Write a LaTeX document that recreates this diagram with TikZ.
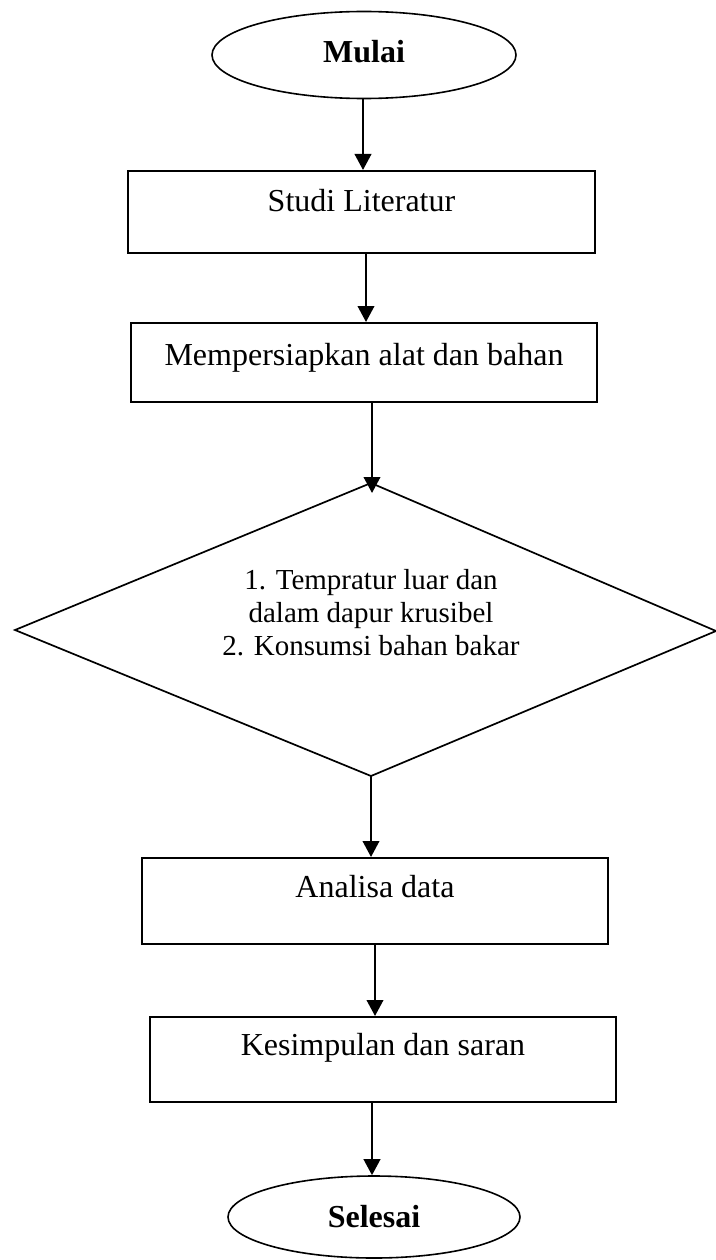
\documentclass[tikz,border=0pt]{standalone}
\usepackage{fontspec}
\setmainfont{Liberation Serif}
\usetikzlibrary{shapes.geometric,arrows.meta}
\begin{document}
\begin{tikzpicture}[x=1pt,y=-1pt,
  term/.style={draw,ellipse,line width=1.6pt,inner sep=0pt},
  procbox/.style={draw,rectangle,line width=2pt,inner sep=0pt},
  lbl/.style={anchor=base,inner sep=0pt,font=\fontsize{32}{38}\selectfont},
  dlbl/.style={anchor=base,inner sep=0pt,font=\fontsize{29}{33}\selectfont},
  tlbl/.style={anchor=base,inner sep=0pt,font=\fontsize{32}{38}\selectfont\bfseries},
  flow/.style={line width=2.3pt,-{Triangle[length=16pt,width=16.5pt]}}]
\useasboundingbox (0,0) rectangle (715,1260);
% terminals
\node[term,minimum width=304pt,minimum height=87pt] (mulai) at (364,55) {};
\node[tlbl] (mulaiT) at (364,63) {Mulai};
\node[term,minimum width=292pt,minimum height=82pt] (selesai) at (374,1217) {};
\node[tlbl] (selesaiT) at (374,1227) {Selesai};
% process boxes
\node[procbox,minimum width=467pt,minimum height=82pt] (studi) at (361.5,212) {};
\node[lbl] (studiT) at (361.5,211.5) {Studi Literatur};
\node[procbox,minimum width=466pt,minimum height=79pt] (mp) at (364,362.5) {};
\node[lbl] (mpT) at (364,365) {Mempersiapkan alat dan bahan};
\node[procbox,minimum width=466pt,minimum height=86pt] (an) at (375,901) {};
\node[lbl] (anT) at (375,897.5) {Analisa data};
\node[procbox,minimum width=466pt,minimum height=85pt] (ks) at (383,1059.5) {};
\node[lbl] (ksT) at (383,1055.5) {Kesimpulan dan saran};
% decision diamond
\coordinate (dtop) at (371,483);
\coordinate (dright) at (716,631);
\coordinate (dbot) at (371,776);
\coordinate (dleft) at (15,630);
\draw[line width=1.7pt,line join=miter] (dtop) -- (dright) -- (dbot) -- (dleft) -- cycle;
\node[dlbl] (d1) at (371,589) {1. Tempratur luar dan};
\node[dlbl] (d2) at (371,622) {dalam dapur krusibel};
\node[dlbl] (d3) at (371,655) {2. Konsumsi bahan bakar};
% connectors
\draw[flow] ([xshift=-1pt]mulai.south) -- ([xshift=-1pt]mulai.south |- studi.north);
\draw[flow] ([xshift=4.5pt]studi.south) -- ([xshift=4.5pt]studi.south |- mp.north);
\draw[flow] ([xshift=8pt]mp.south) -- ([xshift=8pt,yshift=-10pt]mp.south |- dtop);
\draw[flow] (dbot) -- (dbot |- an.north);
\draw[flow] (an.south) -- (an.south |- ks.north);
\draw[flow] ([xshift=-11pt]ks.south) -- ([xshift=-11pt]ks.south |- selesai.north);
\end{tikzpicture}
\end{document}
